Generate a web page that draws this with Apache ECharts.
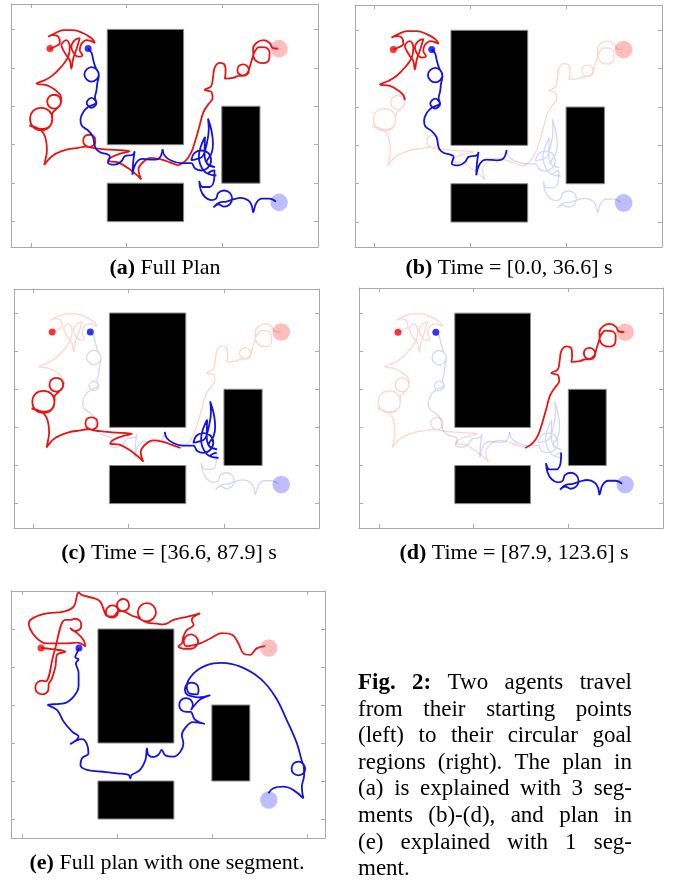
<!DOCTYPE html>
<html>
<head>
<meta charset="utf-8">
<script src="https://cdn.jsdelivr.net/npm/echarts@6.0.0/dist/echarts.min.js"></script>
<style>
html, body { margin: 0; padding: 0; background: #fff; }
#chart { width: 678px; height: 880px; }
</style>
</head>
<body>
<div id="chart"></div>
<script>
// obstacles as [x0, y0, x1, y1]
const obstacles = [[2, 2, 4, 5], [5, 1, 6, 3], [2, 0, 4, 1]];
const redStart = [0.5, 4.5];
const blueStart = [1.5, 4.5];
const redGoal = [6.5, 4.5];
const blueGoal = [6.5, 0.5];
const goalRadius = 0.23;

// plan (a), split into the three explained segments
const red1 = [[0.50,4.50],[0.63,4.55],[0.76,4.65],[0.72,4.81],[0.58,4.85],[0.45,4.81],[0.63,4.90],[0.85,4.98],[1.11,4.98],[1.37,4.90],[1.59,4.77],[1.68,4.65],[1.47,4.72],[1.33,4.63],[1.28,4.46],[1.35,4.33],[1.24,4.29],[1.13,4.37],[1.06,4.55],[1.15,4.72],[1.28,4.77],[1.20,4.50],[1.11,4.24],[1.06,3.98],[1.02,4.20],[0.93,4.33],[0.85,4.46],[0.80,4.59],[0.93,4.72],[1.02,4.55],[0.98,4.29],[0.80,4.03],[0.58,3.81],[0.37,3.68],[0.15,3.59],[0.41,3.55],[0.63,3.43],[0.76,3.31],[0.80,3.18]];
const red2 = [[0.80,3.18],[0.79,3.12],[0.74,2.99],[0.61,2.94],[0.48,2.99],[0.43,3.12],[0.48,3.25],[0.61,3.30],[0.74,3.25],[0.79,3.10],[0.70,2.96],[0.56,2.80],[0.56,2.67],[0.48,2.46],[0.27,2.38],[0.06,2.46],[-0.02,2.67],[0.06,2.88],[0.27,2.96],[0.48,2.88],[0.56,2.67],[0.48,2.47],[0.27,2.41],[0.08,2.46],[-0.04,2.50],[0.18,2.43],[0.33,2.30],[0.40,2.10],[0.42,1.85],[0.38,1.60],[0.35,1.47],[0.58,1.72],[0.93,1.87],[1.25,1.92],[1.42,1.95],[1.53,1.94],[1.66,2.00],[1.69,2.10],[1.65,2.22],[1.53,2.26],[1.41,2.22],[1.37,2.10],[1.42,1.99],[1.56,1.93],[1.75,1.90],[2.07,1.87],[2.59,1.83],[2.32,1.76],[2.10,1.67],[2.02,1.58],[2.28,1.54],[2.58,1.37],[2.80,1.19],[2.89,1.10],[2.82,1.35],[2.94,1.55],[3.15,1.66],[3.41,1.62],[3.64,1.54],[3.86,1.46]];
const red3 = [[3.86,1.46],[4.05,1.58],[4.20,1.80],[4.32,2.15],[4.42,2.50],[4.52,2.85],[4.65,3.05],[4.76,3.22],[4.73,3.37],[4.55,3.43],[4.72,3.52],[4.77,3.75],[4.82,4.02],[4.95,4.13],[5.08,4.07],[5.10,3.90],[5.08,3.72],[5.30,3.74],[5.45,3.79],[5.56,3.79],[5.68,3.84],[5.71,3.94],[5.66,4.05],[5.56,4.09],[5.45,4.05],[5.41,3.94],[5.45,3.84],[5.56,3.80],[5.68,3.88],[5.74,4.05],[5.80,4.25],[5.86,4.42],[5.98,4.54],[6.14,4.53],[6.25,4.40],[6.24,4.22],[6.10,4.12],[5.94,4.15],[5.83,4.30],[5.82,4.50],[5.92,4.66],[6.10,4.72],[6.26,4.64],[6.33,4.52],[6.48,4.50]];
const blue1 = [[1.50,4.50],[1.59,4.39],[1.63,4.22],[1.69,4.02],[1.78,3.83],[1.72,3.70],[1.59,3.64],[1.46,3.70],[1.40,3.83],[1.46,3.96],[1.59,4.02],[1.72,3.96],[1.78,3.80],[1.74,3.60],[1.72,3.42],[1.68,3.22],[1.72,3.09],[1.59,2.96],[1.46,3.09],[1.59,3.22],[1.71,3.10],[1.50,2.98],[1.38,2.86],[1.30,2.65],[1.33,2.50],[1.50,2.37],[1.62,2.22],[1.66,2.04],[1.70,1.90],[1.82,1.80],[1.98,1.76],[2.07,1.70],[2.02,1.53],[2.20,1.48],[2.37,1.57],[2.46,1.70],[2.67,1.74],[2.72,1.83],[2.68,1.55],[2.66,1.22],[2.76,1.53],[2.93,1.63],[3.19,1.61],[3.37,1.66],[3.45,1.88]];
const blue2 = [[3.45,1.88],[3.50,1.72],[3.67,1.59],[3.94,1.52],[4.20,1.52],[4.30,1.38],[4.46,1.33],[4.63,1.40],[4.72,1.59],[4.65,1.78],[4.46,1.85],[4.28,1.78],[4.20,1.60],[4.32,1.62],[4.50,1.70],[4.60,2.00],[4.66,2.40],[4.64,2.68],[4.73,2.37],[4.77,2.03],[4.73,1.77],[4.60,1.55],[4.82,1.42],[4.62,1.50],[4.55,1.75],[4.56,2.20],[4.45,1.95],[4.40,1.70],[4.55,1.30],[4.86,1.20],[4.65,1.25],[4.70,1.30],[4.81,1.34]];
const blue3 = [[4.81,1.34],[4.80,1.10],[4.68,0.90],[4.50,0.90],[4.41,1.06],[4.45,0.82],[4.56,0.64],[4.72,0.56],[4.85,0.60],[4.91,0.75],[5.06,0.81],[5.21,0.75],[5.27,0.60],[5.21,0.45],[5.06,0.39],[4.91,0.45],[4.78,0.37],[4.95,0.50],[5.12,0.52],[5.30,0.58],[5.50,0.62],[5.70,0.55],[5.79,0.40],[5.82,0.24],[5.90,0.48],[6.05,0.60],[6.25,0.60],[6.42,0.52]];

// plan (e), one segment
const redE = [[0.50,4.50],[0.79,4.47],[1.14,4.40],[0.92,4.32],[0.88,4.01],[0.79,3.70],[0.70,3.53],[0.70,3.46],[0.66,3.33],[0.53,3.28],[0.40,3.33],[0.35,3.46],[0.40,3.59],[0.53,3.64],[0.62,3.62],[0.85,4.40],[1.14,5.24],[1.26,5.24],[1.40,5.27],[1.53,5.21],[1.56,5.08],[1.49,4.97],[1.36,4.95],[1.27,5.03],[1.30,5.00],[1.45,4.89],[1.62,4.71],[1.67,4.54],[1.45,4.64],[1.10,4.62],[0.66,4.62],[0.35,4.80],[0.18,5.15],[0.31,5.30],[0.66,5.41],[1.10,5.46],[1.36,5.59],[1.49,5.96],[1.58,5.89],[1.89,5.81],[2.06,5.72],[2.19,5.41],[2.24,5.34],[2.37,5.30],[2.50,5.36],[2.53,5.48],[2.48,5.59],[2.37,5.62],[2.26,5.57],[2.21,5.46],[2.26,5.34],[2.40,5.33],[2.55,5.47],[2.66,5.47],[2.78,5.52],[2.82,5.63],[2.77,5.75],[2.66,5.79],[2.55,5.74],[2.50,5.63],[2.56,5.51],[2.72,5.45],[2.90,5.35],[3.05,5.30],[3.17,5.23],[3.29,5.20],[3.45,5.27],[3.53,5.44],[3.46,5.61],[3.29,5.68],[3.12,5.61],[3.05,5.44],[3.12,5.27],[3.30,5.17],[3.55,5.14],[3.73,5.12],[3.99,5.24],[4.34,5.32],[4.69,5.41],[4.47,5.24],[4.52,5.11],[4.34,4.97],[4.25,4.80],[4.21,4.62],[4.12,4.54],[4.30,4.48],[4.45,4.48],[4.58,4.54],[4.64,4.67],[4.58,4.80],[4.45,4.86],[4.31,4.80],[4.26,4.67],[4.33,4.55],[4.55,4.58],[4.69,4.62],[4.96,4.75],[5.26,4.89],[5.53,4.85],[5.70,4.62],[5.83,4.36],[6.01,4.32],[6.18,4.49],[6.40,4.55]];
const blueE = [[1.50,4.50],[1.45,4.38],[1.40,4.26],[1.49,4.20],[1.42,4.10],[1.49,3.85],[1.49,3.50],[1.36,3.22],[1.10,3.04],[0.68,3.00],[0.92,2.87],[1.10,2.56],[1.32,2.30],[1.49,2.17],[1.27,1.97],[1.58,2.10],[1.71,1.97],[1.75,1.73],[1.58,1.60],[1.54,1.42],[1.71,1.29],[2.06,1.25],[2.50,1.20],[2.81,1.16],[2.85,1.07],[2.89,1.16],[3.11,1.29],[3.25,1.55],[3.29,1.86],[3.33,1.68],[3.47,1.63],[3.60,1.70],[3.68,1.82],[3.77,1.68],[3.99,1.64],[4.17,1.77],[4.25,1.99],[4.21,2.21],[4.30,2.40],[4.50,2.55],[4.82,2.50],[4.55,2.62],[4.44,2.82],[4.32,2.82],[4.19,2.87],[4.14,3.00],[4.19,3.13],[4.32,3.18],[4.45,3.13],[4.50,3.00],[4.45,2.87],[4.55,3.00],[4.70,3.15],[4.96,3.26],[4.65,3.20],[4.47,3.23],[4.34,3.28],[4.29,3.41],[4.34,3.54],[4.47,3.59],[4.60,3.54],[4.65,3.41],[4.60,3.28],[4.42,3.30],[4.34,3.50],[4.52,3.83],[4.87,4.05],[5.26,4.11],[5.75,4.01],[6.27,3.70],[6.67,3.22],[6.97,2.61],[7.24,1.99],[7.38,1.50],[7.46,1.33],[7.41,1.20],[7.28,1.15],[7.15,1.20],[7.10,1.33],[7.15,1.46],[7.28,1.51],[7.42,1.40],[7.43,1.15],[7.37,0.85],[7.41,0.54],[7.15,0.76],[6.89,0.85],[6.62,0.81],[6.49,0.68]];

const xTicks = [0, 2.5, 5];
const xTicksE = [0, 2.5, 5, 7.5];
const yTicks = [0, 1, 2, 3, 4, 5];

const captions = [
  ['(a)', ' Full Plan'],
  ['(b)', ' Time = [0.0, 36.6] s'],
  ['(c)', ' Time = [36.6, 87.9] s'],
  ['(d)', ' Time = [87.9, 123.6] s'],
  ['(e)', ' Full plan with one segment.']
];
const figLines = [
  'Fig. 2: Two agents travel',
  'from their starting points',
  '(left) to their circular goal',
  'regions (right). The plan in',
  '(a) is explained with 3 seg-',
  'ments (b)-(d), and plan in',
  '(e) explained with 1 seg-',
  'ment.'
];

const RED = '#e81414';
const BLUE = '#1414e0';
const FRAME = '#a9a9a9';
const SERIF = '"Liberation Serif", "DejaVu Serif", serif';

const panels = [
  { left: 11, top: 4, width: 307, height: 243, xr: [-0.52, 7.52], yr: [-0.66, 5.66], ticks: xTicks,
    red: [red1, red2, red3], blue: [blue1, blue2, blue3], lit: [0, 1, 2], capX: 165, capY: 268 },
  { left: 355, top: 5, width: 307, height: 242, xr: [-0.5, 7.5], yr: [-0.65, 5.66], ticks: xTicks,
    red: [red1, red2, red3], blue: [blue1, blue2, blue3], lit: [0], capX: 509, capY: 268 },
  { left: 14, top: 289, width: 305, height: 239, xr: [-0.5, 7.49], yr: [-0.64, 5.63], ticks: xTicks,
    red: [red1, red2, red3], blue: [blue1, blue2, blue3], lit: [1], capX: 169, capY: 553 },
  { left: 359, top: 288, width: 304, height: 240, xr: [-0.53, 7.5], yr: [-0.64, 5.66], ticks: xTicks,
    red: [red1, red2, red3], blue: [blue1, blue2, blue3], lit: [2], capX: 514, capY: 553 },
  { left: 11, top: 591, width: 314, height: 247, xr: [-0.29, 7.98], yr: [-0.5, 6.0], ticks: xTicksE,
    red: [redE], blue: [blueE], lit: [0], capX: 167, capY: 863 }
];

const chart = echarts.init(document.getElementById('chart'));

const grid = [], xAxis = [], yAxis = [], series = [], graphic = [];
const n = panels.length;

function axisCommon(ticks) {
  return {
    axisLine: { show: true, onZero: false, lineStyle: { color: FRAME, width: 1 } },
    axisTick: { show: true, inside: true, length: 4, customValues: ticks, lineStyle: { color: FRAME } },
    axisLabel: { show: false },
    splitLine: { show: false }
  };
}

panels.forEach((p, i) => {
  grid.push({ left: p.left, top: p.top, width: p.width, height: p.height });
  xAxis[i] = Object.assign({ type: 'value', gridIndex: i, position: 'bottom', min: p.xr[0], max: p.xr[1] }, axisCommon(p.ticks));
  xAxis[i + n] = Object.assign({ type: 'value', gridIndex: i, position: 'top', min: p.xr[0], max: p.xr[1] }, axisCommon(p.ticks));
  yAxis[i] = Object.assign({ type: 'value', gridIndex: i, position: 'left', min: p.yr[0], max: p.yr[1] }, axisCommon(yTicks));
  yAxis[i + n] = Object.assign({ type: 'value', gridIndex: i, position: 'right', min: p.yr[0], max: p.yr[1] }, axisCommon(yTicks));

  series.push({
    type: 'custom', xAxisIndex: i, yAxisIndex: i, data: obstacles, silent: true, z: 1,
    encode: { x: [0, 2], y: [1, 3] },
    renderItem: (params, api) => {
      const a = api.coord([api.value(0), api.value(3)]);
      const b = api.coord([api.value(2), api.value(1)]);
      return { type: 'rect', shape: { x: a[0], y: a[1], width: b[0] - a[0], height: b[1] - a[1] },
        style: { fill: '#000', stroke: '#8a8a8a', lineWidth: 1 } };
    }
  });
  series.push({
    type: 'custom', xAxisIndex: i, yAxisIndex: i, data: [redGoal, blueGoal], silent: true, z: 1,
    renderItem: (params, api) => {
      const c = api.coord([api.value(0), api.value(1)]);
      const r = api.size([goalRadius, 0])[0];
      return { type: 'circle', shape: { cx: c[0], cy: c[1], r: r },
        style: { fill: params.dataIndex === 0 ? '#ffbdbd' : '#bdbdff' } };
    }
  });

  const addPath = (data, color, k) => {
    const lit = p.lit.indexOf(k) >= 0;
    series.push({
      type: 'line', xAxisIndex: i, yAxisIndex: i, data: data, symbol: 'none', smooth: 0.4,
      silent: true, z: lit ? 3 : 2,
      lineStyle: { color: color, width: lit ? 1.8 : 1.3, opacity: lit ? 1 : 0.18 }
    });
  };
  // faded first, then bright on top
  [false, true].forEach(pass => {
    p.red.forEach((d, k) => { if ((p.lit.indexOf(k) >= 0) === pass) addPath(d, RED, k); });
    p.blue.forEach((d, k) => { if ((p.lit.indexOf(k) >= 0) === pass) addPath(d, BLUE, k); });
  });

  series.push({ type: 'scatter', xAxisIndex: i, yAxisIndex: i, data: [redStart], symbolSize: 7, z: 4,
    itemStyle: { color: '#f00' }, silent: true });
  series.push({ type: 'scatter', xAxisIndex: i, yAxisIndex: i, data: [blueStart], symbolSize: 7, z: 4,
    itemStyle: { color: '#00f' }, silent: true });

  graphic.push({
    type: 'text', x: p.capX, y: p.capY,
    style: {
      text: '{b|' + captions[i][0] + '}{n|' + captions[i][1] + '}',
      rich: {
        b: { font: 'bold 22px ' + SERIF, fill: '#000' },
        n: { font: '22px ' + SERIF, fill: '#000' }
      },
      align: 'center', verticalAlign: 'middle', textAlign: 'center', textVerticalAlign: 'middle'
    }
  });
});

// justified figure text
const bodySize = 23;
const textLeft = 358, textRight = 632, lineTop = 683, lineGap = 26.6;
const ctx = document.createElement('canvas').getContext('2d');
function fontFor(bold) { return (bold ? 'bold ' : '') + bodySize + 'px ' + SERIF; }
function widthOf(w, bold) { ctx.font = fontFor(bold); return ctx.measureText(w).width; }

figLines.forEach((line, li) => {
  const words = line.split(' ');
  const bold = words.map((w, wi) => li === 0 && wi < 2);
  const widths = words.map((w, wi) => widthOf(w, bold[wi]));
  const total = widths.reduce((s, v) => s + v, 0);
  const last = li === figLines.length - 1;
  const gap = (!last && words.length > 1) ? (textRight - textLeft - total) / (words.length - 1) : widthOf(' ', false);
  let x = textLeft;
  words.forEach((w, wi) => {
    graphic.push({
      type: 'text', x: x, y: lineTop + li * lineGap,
      style: { text: w, font: fontFor(bold[wi]), fill: '#000',
        align: 'left', verticalAlign: 'middle', textAlign: 'left', textVerticalAlign: 'middle' }
    });
    x += widths[wi] + gap;
  });
});

chart.setOption({
  animation: false,
  backgroundColor: '#fff',
  grid: grid,
  xAxis: xAxis,
  yAxis: yAxis,
  series: series,
  graphic: graphic
});
</script>
</body>
</html>
